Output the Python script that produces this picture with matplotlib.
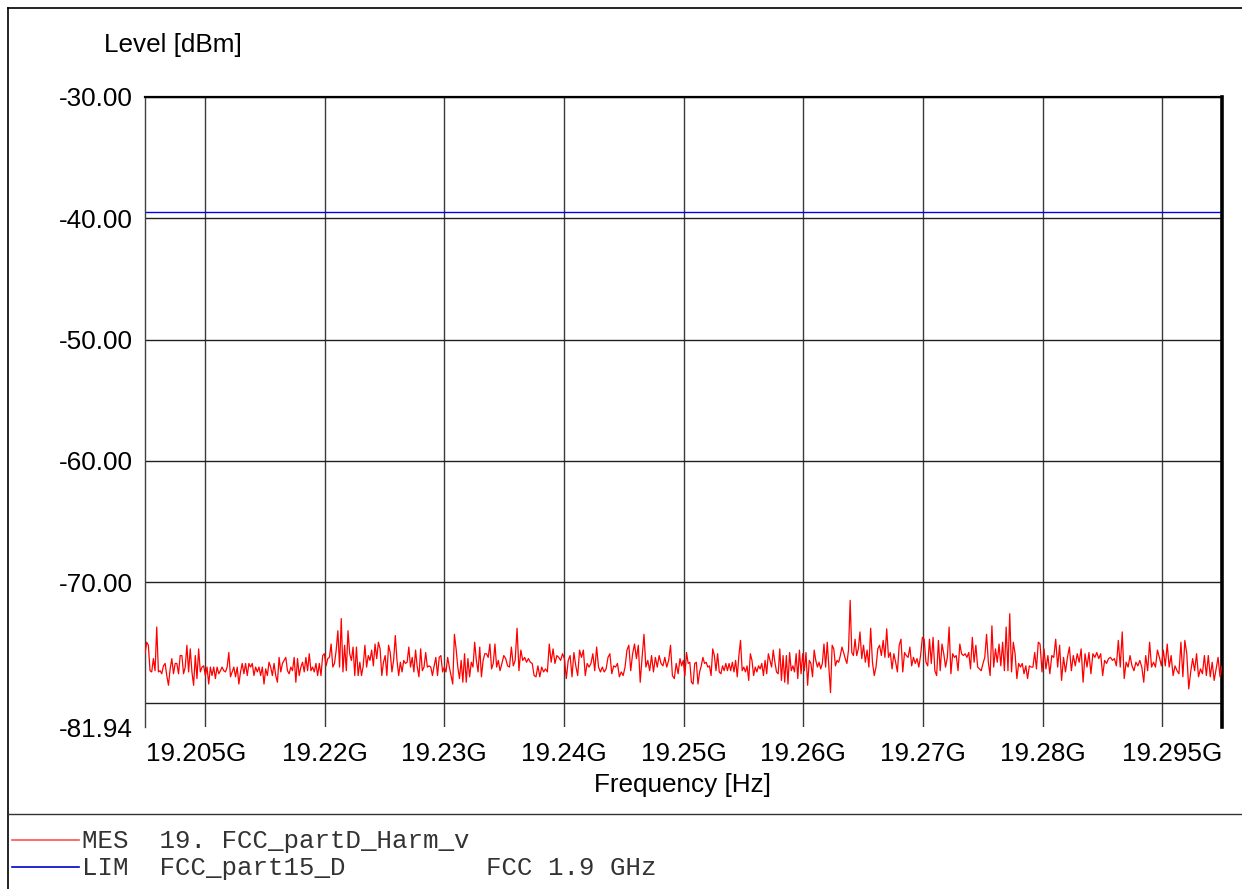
import numpy as np
import matplotlib
matplotlib.use("Agg")
import matplotlib.pyplot as plt
from matplotlib.lines import Line2D
import matplotlib.transforms as mtransforms

# ---------------- data ----------------
F_START = 19.199375e9
F_STOP = 19.300625e9
# frequency edges (Hz) of the six traced stretches of the sweep
seg_edges = [19.199375e9, 19.21592e9, 19.23275e9, 19.24967e9, 19.26659e9, 19.28352e9, 19.300625e9]

seg1 = [-75.9,-74.95,-75.2,-77.3,-77.4,-76.3,-77.3,-73.7,-77.4,-77.3,-77.55,-76.9,-76.7,-77.7,-78.5,-77.15,-76.3,-77.55,-76.7,-76.7,-77.55,-76.05,-76.05,-77.55,-77.0,-75.2,-77.4,-75.5,-77.4,-78.5,-76.05,-77.95,-75.5,-77.4,-77.0,-76.9,-77.7,-77.0,-78.4,-77.0,-77.7,-77.0,-77.95,-77.0,-77.55,-77.3,-77.0,-77.3,-77.4,-77.0,-75.8,-77.8,-77.4,-77.0,-77.8,-77.0,-78.4,-77.4,-76.7,-77.55,-76.7,-77.7,-76.7,-77.0,-76.7,-77.7,-77.0,-77.4,-77.0,-77.7,-77.0,-78.4,-77.15,-77.7,-76.6,-77.0,-77.7,-76.7,-77.7,-78.25,-76.2,-77.4,-76.7,-76.45,-76.2,-77.3,-77.55,-77.0,-77.3,-76.2,-78.25,-76.3,-77.7,-77.0,-76.6,-77.4,-76.2,-77.3,-75.9,-77.3,-77.0,-77.4,-76.7,-77.7,-76.7]
seg2 = [-77.7,-76.05,-75.9,-76.9,-76.3,-76.2,-75.1,-77.0,-76.7,-75.6,-74.0,-77.0,-73.0,-77.4,-75.2,-77.3,-74.0,-75.9,-76.45,-75.35,-77.7,-75.35,-77.7,-76.6,-77.7,-76.9,-75.2,-77.0,-76.05,-76.45,-75.6,-76.9,-75.1,-76.3,-74.95,-75.5,-77.7,-76.6,-76.05,-77.7,-75.2,-75.8,-77.4,-76.45,-74.4,-76.45,-77.7,-76.6,-77.4,-76.45,-76.7,-76.6,-75.35,-77.0,-76.2,-77.4,-75.6,-77.0,-77.8,-75.5,-77.3,-77.0,-75.8,-77.0,-76.9,-77.0,-77.7,-76.9,-76.2,-77.7,-76.2,-76.05,-77.4,-77.0,-77.4,-76.2,-77.0,-77.7,-78.4,-74.3,-75.5,-77.0,-77.95,-76.45,-78.25,-75.9,-78.25,-76.3,-77.8,-76.6,-77.0,-74.95,-76.45,-77.4,-75.35,-77.8,-76.45,-75.9,-75.9,-76.2,-75.1,-77.15,-76.7,-75.1,-77.0,-76.45]
seg3 = [-77.3,-76.7,-76.05,-76.3,-76.9,-77.0,-75.35,-76.9,-76.45,-73.8,-77.3,-75.6,-76.45,-76.2,-76.6,-76.3,-76.6,-76.7,-77.7,-77.8,-76.9,-77.8,-77.0,-77.4,-77.15,-77.4,-75.1,-76.6,-75.5,-76.7,-76.05,-76.2,-76.45,-75.9,-76.3,-77.95,-76.45,-76.05,-77.8,-75.8,-76.9,-77.7,-75.6,-76.2,-75.6,-77.7,-76.7,-77.0,-76.7,-75.9,-77.3,-75.35,-77.0,-77.4,-77.0,-77.4,-77.15,-76.2,-75.9,-77.55,-76.9,-77.0,-76.7,-77.8,-77.4,-77.7,-77.0,-75.6,-75.2,-77.3,-75.9,-75.1,-76.3,-75.2,-78.25,-76.2,-74.3,-77.0,-76.45,-77.3,-76.05,-77.4,-76.2,-77.0,-76.05,-76.7,-76.9,-76.2,-77.0,-76.45,-75.2,-77.7,-77.95,-76.7,-77.55]
seg4 = [-76.3,-76.9,-76.45,-77.7,-75.8,-76.7,-76.6,-78.25,-78.4,-76.7,-76.6,-78.4,-77.4,-76.9,-76.2,-76.7,-76.6,-77.0,-76.9,-77.7,-75.5,-76.05,-77.3,-75.9,-77.4,-77.55,-76.9,-77.3,-76.7,-77.3,-76.7,-77.3,-76.6,-77.4,-76.45,-77.8,-76.05,-74.8,-77.3,-77.0,-77.4,-76.9,-78.1,-75.9,-76.45,-77.7,-77.0,-77.4,-76.9,-77.15,-76.7,-77.7,-76.45,-77.55,-75.9,-76.45,-77.0,-75.6,-76.6,-77.4,-77.55,-75.5,-78.1,-76.05,-78.25,-76.05,-78.4,-75.8,-77.3,-76.9,-77.4,-75.9,-77.95,-75.6,-77.55,-75.9,-77.3,-75.8,-78.5,-76.45,-76.7,-77.8,-75.6,-76.45,-77.0,-76.6,-77.15,-76.7,-75.1,-77.0,-74.95,-77.0,-79.1,-75.2,-75.5,-76.9,-76.45,-76.6,-76.05,-75.35,-75.8,-76.3,-76.7,-75.6,-71.5,-75.8,-76.05,-74.7,-76.05,-75.5]
seg5 = [-74.1,-76.3,-75.2,-76.6,-75.6,-77.0,-73.8,-76.6,-77.7,-77.0,-75.5,-75.2,-76.05,-74.8,-76.2,-73.85,-76.2,-75.8,-77.15,-75.9,-76.6,-77.4,-75.2,-74.7,-77.4,-75.8,-76.05,-76.2,-75.35,-76.9,-76.2,-76.7,-76.3,-77.0,-76.05,-74.55,-74.7,-76.6,-76.9,-74.7,-76.7,-74.55,-77.3,-77.7,-74.8,-77.3,-75.1,-75.9,-77.0,-76.2,-73.7,-77.55,-75.9,-76.2,-76.05,-77.3,-75.1,-75.9,-76.05,-75.9,-76.2,-75.8,-77.15,-74.55,-76.6,-75.2,-77.0,-77.15,-77.3,-76.7,-76.2,-74.3,-76.6,-77.7,-73.6,-77.0,-75.5,-76.6,-75.1,-76.9,-74.95,-77.3,-73.7,-77.3,-72.6,-77.4,-74.95,-75.9,-77.95,-76.7,-77.0,-76.7,-77.55,-76.9,-77.95,-76.9,-77.0,-77.0,-75.8,-77.15,-74.95]
seg6 = [-75.1,-77.4,-75.5,-77.15,-76.05,-77.55,-76.05,-76.2,-74.7,-77.0,-75.2,-78.1,-76.2,-77.4,-76.2,-75.35,-77.3,-76.05,-76.9,-75.9,-76.6,-75.5,-78.25,-75.9,-77.0,-75.8,-77.55,-75.9,-76.2,-75.8,-76.3,-75.9,-77.7,-76.45,-76.7,-76.3,-76.2,-76.45,-76.3,-76.9,-74.8,-77.0,-74.1,-77.95,-76.6,-77.0,-76.05,-76.9,-77.3,-76.6,-76.9,-76.45,-77.0,-78.25,-76.05,-77.3,-74.95,-77.0,-76.6,-77.0,-75.6,-76.2,-76.9,-75.6,-76.9,-75.1,-77.0,-76.05,-77.7,-76.9,-77.3,-77.55,-74.95,-77.8,-74.8,-75.9,-78.8,-77.4,-76.3,-77.3,-75.9,-77.8,-77.15,-77.55,-76.05,-77.7,-76.05,-77.8,-76.6,-78.1,-77.15,-76.2,-77.8,-76.9]

LIMIT_LEVEL = -39.5
Y_MIN, Y_MAX = -81.94, -30.0
x_ticks = [19.205e9, 19.21625e9, 19.2275e9, 19.23875e9, 19.25e9, 19.26125e9, 19.2725e9, 19.28375e9, 19.295e9]
x_ticklabels = ["19.205G", "19.22G", "19.23G", "19.24G", "19.25G", "19.26G", "19.27G", "19.28G", "19.295G"]
y_grid = [-30, -40, -50, -60, -70, -80]
y_ticks = [-30, -40, -50, -60, -70, -81.94]
y_ticklabels = ["-30.00", "-40.00", "-50.00", "-60.00", "-70.00", "-81.94"]

segments = [seg1, seg2, seg3, seg4, seg5, seg6]
freq_parts = []
for i, seg in enumerate(segments):
    last = (i == len(segments) - 1)
    freq_parts.append(np.linspace(seg_edges[i], seg_edges[i + 1], len(seg), endpoint=last))
freqs = np.concatenate(freq_parts)
levels = np.array(seg1 + seg2 + seg3 + seg4 + seg5 + seg6)

# ---------------- figure ----------------
W, H = 1242, 889
fig = plt.figure(figsize=(W / 100, H / 100), dpi=100)
plt.rcParams['font.family'] = ['Liberation Sans', 'DejaVu Sans']

def fx(px):
    return px / W

def fy(py):
    return 1 - py / H

ax = fig.add_axes([fx(145), fy(727), fx(1222) - fx(145), fy(97) - fy(727)])
ax.set_xlim(F_START, F_STOP)
ax.set_ylim(Y_MIN, Y_MAX)

for xv in x_ticks:
    ax.axvline(xv, color='#3a3a3a', lw=1.0, zorder=1)
for yv in y_grid:
    ax.axhline(yv, color='#202020', lw=1.0, zorder=1)

ax.axhline(LIMIT_LEVEL, color='#0000ff', lw=1.0, zorder=2)
ax.plot(freqs, levels, color='#ff0000', lw=0.9, zorder=3)

ax.set_xticks(x_ticks)
ax.set_xticklabels(x_ticklabels, fontsize=18.8)
ax.set_yticks(y_ticks)
ax.set_yticklabels(y_ticklabels, fontsize=18.8)
ax.tick_params(length=0, pad=9)
ax.tick_params(axis='x', pad=11)

# first and last frequency labels are kept inside the plot width
xlabels = ax.get_xticklabels()
xlabels[0].set_transform(xlabels[0].get_transform() +
                         mtransforms.ScaledTranslation(-9 / 100, 0, fig.dpi_scale_trans))
xlabels[-1].set_transform(xlabels[-1].get_transform() +
                          mtransforms.ScaledTranslation(10 / 100, 0, fig.dpi_scale_trans))

ax.spines['bottom'].set_visible(False)
ax.spines['left'].set_color('#404040')
ax.spines['left'].set_linewidth(1.0)
ax.spines['top'].set_color('black')
ax.spines['top'].set_linewidth(1.6)
ax.spines['right'].set_color('black')
ax.spines['right'].set_linewidth(2.6)

fig.text(fx(104), fy(45), "Level [dBm]", fontsize=18.8, ha='left', va='center')
fig.text(fx(683), fy(785), "Frequency [Hz]", fontsize=18.8, ha='center', va='center')

# outer frame lines
fig.add_artist(Line2D([fx(8), 1.0], [fy(8), fy(8)], color='black', lw=1.2))
fig.add_artist(Line2D([fx(8), fx(8)], [fy(8), 0.0], color='black', lw=1.2))
fig.add_artist(Line2D([fx(8), 1.0], [fy(814), fy(814)], color='#333333', lw=1.0))

# legend area
mono = ['Liberation Mono', 'DejaVu Sans Mono']
fig.add_artist(Line2D([fx(12), fx(79)], [fy(840), fy(840)], color='#ff5050', lw=1.2))
fig.add_artist(Line2D([fx(12), fx(79)], [fy(867), fy(867)], color='#0000cc', lw=1.2))
fig.text(fx(82), fy(841), "MES  19. FCC_partD_Harm_v", family=mono, fontsize=18.5,
         ha='left', va='center', color='#333333')
fig.text(fx(82), fy(868), "LIM  FCC_part15_D", family=mono, fontsize=18.5,
         ha='left', va='center', color='#333333')
fig.text(fx(486), fy(868), "FCC 1.9 GHz", family=mono, fontsize=18.5,
         ha='left', va='center', color='#333333')

fig.savefig("out.png", dpi=100)
